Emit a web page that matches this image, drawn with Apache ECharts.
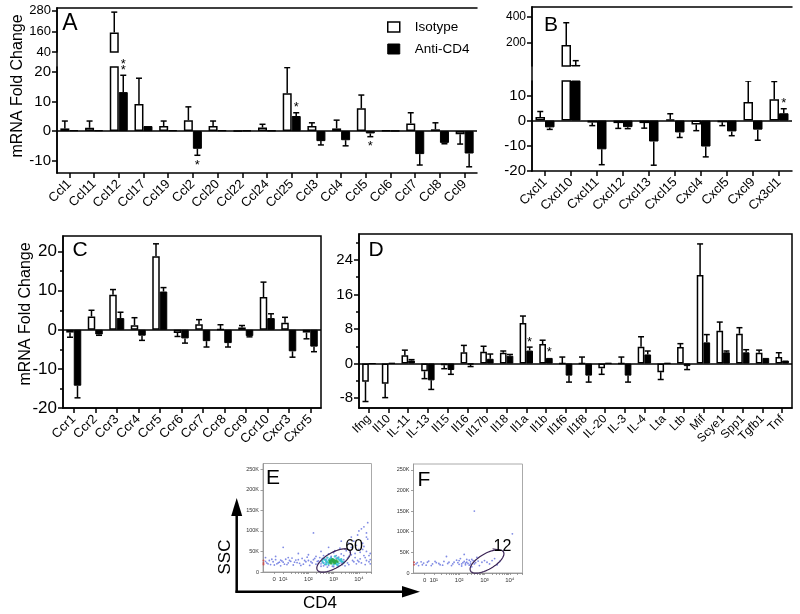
<!DOCTYPE html>
<html><head><meta charset="utf-8">
<script src="https://cdn.jsdelivr.net/npm/echarts@6/dist/echarts.min.js"></script>
<style>html,body{margin:0;padding:0;background:#fff}#c{width:800px;height:614px}</style>
</head><body><div id="c"></div>
<script>
// ---------------- DATA ----------------
const catsA = ['Ccl1','Ccl11','Ccl12','Ccl17','Ccl19','Ccl2','Ccl20','Ccl22','Ccl24','Ccl25','Ccl3','Ccl4','Ccl5','Ccl6','Ccl7','Ccl8','Ccl9'];
const isoA     = [0.9, 1.1, 154, 9.2, 1.7, 3.7, 1.7, 0.1, 1.2, 12.8, 1.7, 0.9, 7.7, 0.2, 2.6, 0.6, -1.1];
const isoErrA  = [2.5, 2.3, 118, 8.7, 1.7, 4.5, 1.7, 0,   1.1, 8.7,  1.1, 2.8, 4.5, 0,   3.6, 2.2, 3.3];
const antiA    = [0.3, 0.3, 13.2, 1.7, 0.3, -6.0, 0.3, 0.2, 0.2, 5.1, -3.4, -3.1, -0.8, 0.1, -7.8, -4.0, -7.6];
const antiErrA = [0,   0,   5.7,  0,   0,   2.2,  0,   0,   0,   1.1, 1.3,  1.9,  1.1,  0,   3.7,  0.3,  4.5];
const sigA     = ['','','**','','','*','','','','*','','','*','','','',''];
const ticksAUpper = [40, 160, 280];
const ticksALower = [-10, 0, 10, 20];

const catsB = ['Cxcl1','Cxcl10','Cxcl11','Cxcl12','Cxcl13','Cxcl15','Cxcl4','Cxcl5','Cxcl9','Cx3cl1'];
const isoB     = [1.4, 185, -0.8, -1.0, -1.0, 0.5, -1.6, -0.7, 7.4, 8.5];
const isoErrB  = [2.2, 171, 1.2,  2.1,  2.0,  2.2, 2.4,  1.3,  8.3, 7.0];
const antiB    = [-2.7, 31, -11.4, -2.6, -8.3, -4.7, -10.3, -4.3, -3.6, 2.9];
const antiErrB = [0.8,  33, 6.1,   0.6,  9.4,  2.0,  4.1,   1.7,  4.2,  1.8];
const sigB     = ['','','','','','','','','','*'];
const ticksBUpper = [200, 400];
const ticksBLower = [-20, -10, 0, 10];

const catsC = ['Ccr1','Ccr2','Ccr3','Ccr4','Ccr5','Ccr6','Ccr7','Ccr8','Ccr9','Ccr10','Cxcr3','Cxcr5'];
const isoC     = [-0.7, 3.4, 9.0, 1.2, 18.8, -0.8, 1.4, 0.1, 0.6, 8.4, 1.8, -0.7];
const isoErrC  = [1.2,  1.6, 1.3, 1.9, 3.2,  0.9,  1.2, 1.2, 0.5, 3.8, 1.4, 1.6];
const antiC    = [-14.3, -1.2, 3.0, -1.5, 9.8, -2.2, -2.9, -3.4, -1.6, 3.0, -5.5, -4.3];
const antiErrC = [3.1,   0.2,  1.5, 1.2,  1.0, 1.2,  1.5,  1.0,  0.2,  1.1, 1.5,  1.3];
const ticksC = [-20, -10, 0, 10, 20];
const minorC = [-15, -5, 5, 15];

const catsD = ['Ifng','Il10','IL-11','IL-13','Il15','Il16','Il17b','Il18','Il1a','Il1b','Il1f6','Il1f8','IL-20','IL-3','IL-4','Lta','Ltb','Mif','Scye1','Spp1','Tgfb1','Tnf'];
const isoD     = [-4.2, -4.7, 1.9, -1.8, -0.4, 2.6, 2.7, 2.5, 9.4, 4.5, 0, 0, -1.1, 0, 3.9, -2.0, 3.8, 20.5, 7.6, 6.9, 2.5, 1.5];
const isoErrD  = [4.6,  3.2,  1.2, 1.7,  0.8,  1.6, 1.3, 0.4, 1.6, 0.9, 1.5, 1.5, 1.4, 1.5, 2.3, 1.7, 0.8, 7.2, 2.0, 1.4, 0.6, 1.0];
const antiD    = [0, 0.1, 0.7, -3.9, -1.5, -0.2, 1.1, 1.8, 3.0, 1.3, -2.8, -2.8, 0.1, -2.8, 2.1, 0.1, -0.6, 4.9, 2.6, 2.6, 1.3, 0.7];
const antiErrD = [0, 0,   0.2, 2.1,  1.0,  0.5,  1.1, 0.3, 0.8, 0,   1.5,  1.5,  0,   1.5,  0.8, 0,   0.8,  1.8, 0.3, 0.6, 0,   0];
const sigD     = ['','','','','','','','','*','*','','','','','','','','','','','',''];
const ticksD = [-8, 0, 8, 16, 24];
const minorD = [-4, 4, 12, 20, 28];

// flow cytometry: [CD4 position in decades, SSC in thousands]
const flowXTickVals = [0.64, 1, 2, 3, 4];
const flowXTickLabels = ['0', '10¹', '10²', '10³', '10⁴'];
const flowYTickVals = [0, 50, 100, 150, 200, 250];
const flowYTickLabels = ['0', '50K', '100K', '150K', '200K', '250K'];
const eBlue = [[0.35,22],[0.45,28],[0.5,18],[0.6,25],[0.7,30],[0.75,20],[0.85,24],[0.95,27],[1.05,19],[1.1,31],[1.2,22],[1.3,26],[1.4,17],[1.5,29],[1.55,23],[1.65,21],[1.75,33],[1.8,19],[1.9,25],[2.0,28],[2.05,16],[2.15,22],[2.2,30],[2.3,19],[2.35,26],[2.45,35],[2.5,14],[2.55,24],[2.6,40],[2.65,18],[2.7,31],[2.75,12],[2.8,44],[2.9,38],[2.95,14],[3.0,47],[3.1,40],[3.15,12],[3.2,36],[3.3,44],[3.35,18],[3.4,30],[3.5,52],[3.55,22],[3.6,38],[3.7,60],[3.75,28],[3.8,75],[3.85,45],[3.9,20],[3.95,90],[4.0,55],[4.05,32],[4.1,105],[4.15,70],[4.2,40],[4.25,18],[4.3,85],[4.35,120],[4.4,25],[1.0,60],[2.2,95],[3.3,75],[1.6,45],[2.8,60],[4.45,30],[4.45,45],[4.45,20],[0.3,35],[0.9,15],[1.35,34],[1.95,36],[2.4,21],[2.55,33],[3.45,15],[3.65,48],[4.0,25],[4.3,50],
  [0.3,26],[0.4,20],[0.55,31],[0.65,17],[0.8,22],[0.9,29],[1.0,24],[1.15,18],[1.25,28],[1.45,24],[1.6,30],[1.7,16],[1.85,28],[2.1,25],[2.25,33],[2.4,27],[2.5,20],[2.6,15],[2.7,23],[2.8,16],[2.9,35],[3.0,13],[3.1,33],[3.2,15],[3.3,22],[3.4,40],[3.45,26],[3.55,34],[3.6,18],[3.7,42],[3.8,25],[3.85,35],[3.95,28],[4.05,48],[4.1,22],[4.2,62],[4.25,35],[4.3,28],[4.35,80],[4.4,40],[3.9,65],[4.0,100],[4.2,110],[3.7,85],[4.3,95],[3.6,70],[4.15,55],[2.3,38],[1.2,35],[0.7,38],[2.0,42],[3.05,52],[3.25,58],[2.5,50]];
const eCyan = [[2.6,22],[2.7,27],[2.8,20],[2.85,32],[2.9,25],[3.0,18],[3.0,30],[3.1,24],[3.15,34],[3.2,21],[3.25,28],[3.35,25],[2.75,35],[3.05,38],[2.65,30],[3.3,31],[2.55,27],[2.7,19],[2.8,29],[2.9,33],[3.1,20],[3.2,31],[3.3,27],[3.4,23],[2.6,32],[2.75,24],[3.15,17]];
const eGreen = [[2.85,24],[2.95,27],[3.0,23],[3.05,26],[2.9,21],[3.1,28],[2.95,31],[3.0,25],[2.9,28],[3.0,29],[3.05,22],[2.85,27],[3.15,25]];
const eRed = [[0.22,22],[0.22,28],[0.22,18]];
const fBlue = [[0.3,22],[0.4,18],[0.5,27],[0.6,24],[0.7,19],[0.8,29],[0.95,22],[1.1,25],[1.25,20],[1.4,28],[1.55,23],[1.7,18],[1.8,26],[1.9,31],[2.0,21],[2.05,35],[2.1,17],[2.15,25],[2.2,28],[2.25,20],[2.3,33],[2.35,23],[2.4,19],[2.45,27],[2.5,15],[2.55,30],[2.6,22],[2.7,38],[2.8,18],[2.9,26],[3.0,30],[3.2,22],[3.4,35],[3.6,28],[2.2,45],[1.5,40],[3.8,55],[4.1,95],[2.6,150],[2.25,24],[2.4,31],
  [0.35,25],[0.55,20],[0.75,26],[0.9,18],[1.05,28],[1.2,23],[1.35,19],[1.6,26],[1.75,22],[1.95,25],[2.0,30],[2.1,22],[2.3,26],[2.45,22],[2.5,33],[2.65,25],[2.75,29],[3.1,26],[3.3,30],[3.5,20]];
const fRed = [[0.22,20],[0.22,26]];
// gate: [centre x, centre y, semi-axis x (decades), semi-axis y (K), angle deg]
const gateE = [3.0, 28, 0.75, 19, 30];
const gateF = [3.1, 28, 0.75, 19, 30];
const gateLabelE = '60';
const gateLabelF = '12';

// ---------------- CHART ----------------
const FONT = '"Liberation Sans", Arial, Helvetica, sans-serif';
const AX = {color: '#000', width: 1.5};
const chart = echarts.init(document.getElementById('c'));

function topCat(gi, cats) {
  return {gridIndex: gi, type: 'category', data: cats, position: 'top',
    axisLine: {show: true, onZero: false, lineStyle: AX}, axisTick: {show: false}, axisLabel: {show: false}};
}
function botCat(gi, cats, fs) {
  return {gridIndex: gi, type: 'category', data: cats, position: 'bottom',
    axisLine: {show: true, onZero: false, lineStyle: AX},
    axisTick: {show: true, alignWithLabel: true, length: 5, lineStyle: AX},
    axisLabel: {interval: 0, rotate: 45, fontSize: fs, color: '#000', fontFamily: FONT, margin: 9}};
}
function valY(gi, min, max, ticks, fs) {
  return {gridIndex: gi, type: 'value', min: min, max: max, position: 'left',
    axisLine: {show: true, onZero: false, lineStyle: AX}, splitLine: {show: false},
    axisTick: {show: true, length: 5, lineStyle: AX, customValues: ticks},
    axisLabel: {customValues: ticks, fontSize: fs, color: '#000', fontFamily: FONT, margin: 6}};
}
function minorY(gi, min, max, ticks) {
  return {gridIndex: gi, type: 'value', min: min, max: max, position: 'left',
    axisLine: {show: false}, splitLine: {show: false}, axisLabel: {show: false},
    axisTick: {show: true, length: 3, lineStyle: AX, customValues: ticks}};
}
function frameY(gi) {
  return {gridIndex: gi, type: 'value', min: 0, max: 1, position: 'right',
    axisLine: {show: true, lineStyle: AX}, axisTick: {show: false}, axisLabel: {show: false}, splitLine: {show: false}};
}
function flowX(gi) {
  const minor = [];
  for (let d = 1; d <= 4; d++) for (let k = 2; k <= 9; k++) { const v = d + Math.log10(k); if (v < 4.5) minor.push(v); }
  return {gridIndex: gi, type: 'value', min: 0.2, max: 4.5,
    axisLine: {show: true, onZero: false, lineStyle: {color: '#999', width: 1}}, splitLine: {show: false},
    axisTick: {show: true, length: 2, lineStyle: {color: '#888', width: 0.8}, customValues: flowXTickVals.concat(minor)},
    axisLabel: {customValues: flowXTickVals, fontSize: 6, color: '#333', fontFamily: FONT, margin: 4,
      formatter: v => { let b = 0; flowXTickVals.forEach((t, i) => { if (Math.abs(t - v) < Math.abs(flowXTickVals[b] - v)) b = i; }); return flowXTickLabels[b]; }}};
}
function flowY(gi) {
  return {gridIndex: gi, type: 'value', min: 0, max: 264,
    axisLine: {show: true, onZero: false, lineStyle: {color: '#999', width: 1}}, splitLine: {show: false},
    axisTick: {show: true, length: 2.5, lineStyle: {color: '#888', width: 0.8}, customValues: flowYTickVals},
    axisLabel: {customValues: flowYTickVals, fontSize: 5.5, color: '#333', fontFamily: FONT, margin: 4,
      formatter: v => flowYTickLabels[flowYTickVals.indexOf(v)]}};
}

function bars(xi, yi, iso, anti, barW, zero) {
  const s1 = {type: 'bar', name: 'Isotype', xAxisIndex: xi, yAxisIndex: yi, data: iso, barWidth: barW, barGap: '0%',
    itemStyle: {color: '#fff', borderColor: '#000', borderWidth: 1.5}, z: 3, silent: true};
  if (zero) s1.markLine = {silent: true, symbol: 'none', label: {show: false}, animation: false,
    lineStyle: {color: '#000', width: 1.6, type: 'solid'}, data: [{yAxis: 0}]};
  const s2 = {type: 'bar', name: 'Anti-CD4', xAxisIndex: xi, yAxisIndex: yi, data: anti, barWidth: barW, barGap: '0%',
    itemStyle: {color: '#000', borderColor: '#000', borderWidth: 1}, z: 3, silent: true};
  return [s1, s2];
}
function errs(xi, yi, vals, es, side, barW) {
  return {type: 'custom', xAxisIndex: xi, yAxisIndex: yi, clip: true, z: 4, silent: true,
    data: vals.map((v, i) => [i, v, es[i]]),
    renderItem: (params, api) => {
      const i = api.value(0), v = api.value(1), e = api.value(2);
      if (!e) return null;
      const dir = v >= 0 ? 1 : -1;
      const p0 = api.coord([i, v]);
      const p1 = api.coord([i, v + dir * e]);
      const x = p0[0] + side * barW / 2;
      return {type: 'group', children: [
        {type: 'line', shape: {x1: x, y1: p0[1], x2: x, y2: p1[1]}, style: {stroke: '#000', lineWidth: 1.5}},
        {type: 'line', shape: {x1: x - 3, y1: p1[1], x2: x + 3, y2: p1[1]}, style: {stroke: '#000', lineWidth: 1.5}}
      ]};
    }};
}
function stars(xi, yi, vals, es, sig, barW) {
  return {type: 'custom', xAxisIndex: xi, yAxisIndex: yi, clip: false, z: 5, silent: true,
    data: vals.map((v, i) => [i, v, es[i]]),
    renderItem: (params, api) => {
      const s = sig[params.dataIndex];
      if (!s) return null;
      const i = api.value(0), v = api.value(1), e = api.value(2);
      const dir = v >= 0 ? 1 : -1;
      const p1 = api.coord([i, v + dir * e]);
      const x = p1[0] + barW / 2;
      const ch = [];
      for (let k = 0; k < s.length; k++) {
        const yc = dir > 0 ? p1[1] - 8 - 6 * k : p1[1] + 7 + 6 * k;
        ch.push({type: 'text', x: x, y: yc + 3, style: {text: '*', fontSize: 13, fontFamily: FONT, fill: '#000',
          align: 'center', verticalAlign: 'middle', textAlign: 'center', textVerticalAlign: 'middle'}});
      }
      return {type: 'group', children: ch};
    }};
}
function scatter(xi, yi, data, color, size, op) {
  return {type: 'scatter', xAxisIndex: xi, yAxisIndex: yi, data: data, symbolSize: size, silent: true,
    itemStyle: {color: color, opacity: op}};
}
function gate(xi, yi, g, label, dx, dy) {
  return {type: 'custom', xAxisIndex: xi, yAxisIndex: yi, clip: false, z: 6, silent: true, data: [g],
    renderItem: (params, api) => {
      const c = api.coord([api.value(0), api.value(1)]);
      const sz = api.size([api.value(2), api.value(3)]);
      const a = api.value(4) * Math.PI / 180;
      const pt = t => { const ex = sz[0] * Math.cos(t), ey = sz[1] * Math.sin(t);
        return [c[0] + ex * Math.cos(a) - ey * Math.sin(a), c[1] - (ex * Math.sin(a) + ey * Math.cos(a))]; };
      const pts = [];
      for (let k = 0; k <= 60; k++) pts.push(pt(k / 60 * 2 * Math.PI));
      const lp = pt(0.5);
      const tx = lp[0] + dx, ty = lp[1] + dy;
      return {type: 'group', children: [
        {type: 'polygon', shape: {points: pts}, style: {fill: 'none', stroke: '#3b2455', lineWidth: 1.2}},
        {type: 'line', shape: {x1: lp[0], y1: lp[1], x2: tx - 1, y2: ty + 2}, style: {stroke: '#3b2455', lineWidth: 1}},
        {type: 'text', x: tx, y: ty, style: {text: label, fontSize: 16, fontFamily: FONT, fill: '#000',
          align: 'left', verticalAlign: 'middle', textAlign: 'left', textVerticalAlign: 'middle'}}
      ]};
    }};
}
function txt(x, y, s, fs, rot) {
  return {type: 'text', x: x, y: y, rotation: rot || 0, silent: true,
    style: {text: s, fontSize: fs, fontFamily: FONT, fill: '#000', align: 'center', verticalAlign: 'middle',
      textAlign: 'center', textVerticalAlign: 'middle'}};
}

const option = {
  animation: false,
  backgroundColor: '#fff',
  textStyle: {fontFamily: FONT},
  grid: [
    {left: 57, top: 8, width: 420, height: 44},
    {left: 57, top: 67, width: 420, height: 106},
    {left: 57, top: 8, width: 420, height: 165},
    {left: 532, top: 7, width: 260, height: 59},
    {left: 532, top: 81, width: 260, height: 90},
    {left: 532, top: 7, width: 260, height: 164},
    {left: 63, top: 236, width: 258, height: 172, show: true, borderColor: '#000', borderWidth: 1.5},
    {left: 359, top: 234, width: 433, height: 174, show: true, borderColor: '#000', borderWidth: 1.5},
    {left: 263, top: 463.5, width: 108.5, height: 108.5, show: true, borderColor: '#aaa', borderWidth: 1},
    {left: 413.5, top: 464, width: 109, height: 109, show: true, borderColor: '#aaa', borderWidth: 1}
  ],
  xAxis: [
    topCat(0, catsA), botCat(1, catsA, 13), {gridIndex: 2, type: 'value', show: false},
    topCat(3, catsB), botCat(4, catsB, 13), {gridIndex: 5, type: 'value', show: false},
    botCat(6, catsC, 13), botCat(7, catsD, 12),
    flowX(8), flowX(9)
  ],
  yAxis: [
    valY(0, 40, 296, ticksAUpper, 13), valY(1, -14.2, 21.7, ticksALower, 15), frameY(2),
    valY(3, 23, 477, ticksBUpper, 12), valY(4, -20, 15.7, ticksBLower, 15), frameY(5),
    valY(6, -20, 24, ticksC, 17), minorY(6, -20, 24, minorC),
    valY(7, -10.3, 30, ticksD, 15), minorY(7, -10.3, 30, minorD),
    flowY(8), flowY(9)
  ],
  legend: {left: 382, top: 15, orient: 'vertical', itemWidth: 12, itemHeight: 10, itemGap: 8,
    textStyle: {fontSize: 13.5, color: '#000', fontFamily: FONT, padding: [0, 0, 0, 10]},
    data: [{name: 'Isotype', icon: 'rect', itemStyle: {color: '#fff', borderColor: '#000', borderWidth: 1.5}},
           {name: 'Anti-CD4', icon: 'rect', itemStyle: {color: '#000', borderColor: '#000', borderWidth: 1}}]},
  series: [].concat(
    bars(0, 0, isoA, antiA, 9, false), errs(0, 0, isoA, isoErrA, -1, 9), errs(0, 0, antiA, antiErrA, 1, 9),
    bars(1, 1, isoA, antiA, 9, true), errs(1, 1, isoA, isoErrA, -1, 9), errs(1, 1, antiA, antiErrA, 1, 9),
    stars(1, 1, antiA, antiErrA, sigA, 9),
    bars(3, 3, isoB, antiB, 9.5, false), errs(3, 3, isoB, isoErrB, -1, 9.5), errs(3, 3, antiB, antiErrB, 1, 9.5),
    bars(4, 4, isoB, antiB, 9.5, true), errs(4, 4, isoB, isoErrB, -1, 9.5), errs(4, 4, antiB, antiErrB, 1, 9.5),
    stars(4, 4, antiB, antiErrB, sigB, 9.5),
    bars(6, 6, isoC, antiC, 7.5, true), errs(6, 6, isoC, isoErrC, -1, 7.5), errs(6, 6, antiC, antiErrC, 1, 7.5),
    bars(7, 8, isoD, antiD, 6.7, true), errs(7, 8, isoD, isoErrD, -1, 6.7), errs(7, 8, antiD, antiErrD, 1, 6.7),
    stars(7, 8, antiD, antiErrD, sigD, 6.7),
    scatter(8, 10, eBlue, '#4a5ad8', 1.8, 0.7), scatter(8, 10, eCyan, '#30c0d0', 2.4, 0.9),
    scatter(8, 10, eGreen, '#2aa84a', 2.6, 0.95), scatter(8, 10, eRed, '#d04040', 2, 0.8),
    gate(8, 10, gateE, gateLabelE, -1, -2),
    scatter(9, 11, fBlue, '#4a5ad8', 1.8, 0.7), scatter(9, 11, fRed, '#d04040', 2, 0.8),
    gate(9, 11, gateF, gateLabelF, -6, -3)
  ),
  graphic: [
    txt(70, 24, 'A', 23), txt(551, 25, 'B', 21), txt(80, 250, 'C', 21), txt(376, 250, 'D', 21),
    txt(273, 478, 'E', 21), txt(424, 480, 'F', 21),
    txt(17.5, 86, 'mRNA Fold Change', 16, Math.PI / 2),
    txt(26, 314, 'mRNA Fold Change', 16, Math.PI / 2),
    txt(225, 557, 'SSC', 17, Math.PI / 2),
    txt(320, 603, 'CD4', 17),
    {type: 'line', silent: true, shape: {x1: 236.7, y1: 512, x2: 236.7, y2: 592.8}, style: {stroke: '#000', lineWidth: 2.5}},
    {type: 'polygon', silent: true, shape: {points: [[236.7, 498], [231.2, 516], [242.2, 516]]}, style: {fill: '#000'}},
    {type: 'line', silent: true, shape: {x1: 235.5, y1: 591.7, x2: 405, y2: 591.7}, style: {stroke: '#000', lineWidth: 2.5}},
    {type: 'polygon', silent: true, shape: {points: [[420, 591.7], [402, 586], [402, 597.4]]}, style: {fill: '#000'}}
  ]
};
chart.setOption(option);
</script>
</body></html>
